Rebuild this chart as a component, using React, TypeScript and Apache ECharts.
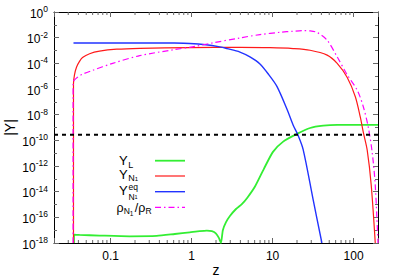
import React, { useEffect, useRef } from 'react';
import * as echarts from 'echarts';

// ---- axis ranges & ticks ----
const X_MIN = 0.02;
const X_MAX = 200;
const Y_MIN_EXP = -18;
const Y_MAX_EXP = 0;
const xTickValues = [0.1, 1, 10, 100];
const xTickLabels = ['0.1', '1', '10', '100'];
const yTickExponents = [0, -2, -4, -6, -8, -10, -12, -14, -16, -18];
const xMinorTicks = [
  0.03, 0.04, 0.05, 0.06, 0.07, 0.08, 0.09,
  0.2, 0.3, 0.4, 0.5, 0.6, 0.7, 0.8, 0.9,
  2, 3, 4, 5, 6, 7, 8, 9,
  20, 30, 40, 50, 60, 70, 80, 90,
];

// ---- series (z, log10 |Y|) ----
const greenZ = [0.0353, 0.0353, 0.0413, 0.073, 0.172, 0.371, 0.62, 0.95, 1.26, 1.54, 1.78, 1.99, 2.17, 2.3, 2.43, 2.65, 2.97, 3.53, 4.2, 4.9, 6.06, 7.83, 10.1, 13.5, 20.0, 29.0, 42.1, 62.7, 200];
const greenLogY = [-18, -17.35, -17.37, -17.42, -17.48, -17.45, -17.3, -17.17, -17.08, -17.04, -17.08, -17.25, -17.6, -18, -17.0, -16.4, -15.9, -15.35, -14.95, -14.45, -13.6, -12.2, -10.9, -10.1, -9.5, -9.04, -8.86, -8.8, -8.8];

const redZ = [0.0348, 0.0348, 0.0358, 0.0379, 0.0413, 0.045, 0.055, 0.073, 0.119, 0.229, 0.95, 3.95, 9.3, 17.9, 29.0, 47.1, 62.7, 83.4, 105, 121, 132, 147, 165, 185];
const redLogY = [-18, -5.6, -4.9, -4.3, -3.85, -3.55, -3.25, -3.05, -2.9, -2.83, -2.77, -2.76, -2.78, -2.85, -2.98, -3.36, -4.0, -5.1, -6.6, -8.2, -9.4, -10.75, -13.5, -18];

const blueZ = [0.0348, 0.1, 0.3, 0.6, 0.95, 1.5, 2.23, 2.73, 3.95, 5.25, 6.98, 9.0, 11.3, 15.1, 17.9, 20.6, 23.8, 31.6, 40.6];
const blueLogY = [-2.41, -2.41, -2.41, -2.42, -2.45, -2.55, -2.72, -2.85, -3.12, -3.5, -4.05, -4.9, -5.8, -7.6, -8.8, -9.6, -10.7, -14.6, -18];

const magentaZ = [0.0344, 0.0344, 0.0379, 0.045, 0.0598, 0.106, 0.229, 0.585, 1.1, 1.78, 3.95, 6.98, 12.4, 17.9, 23.8, 29.0, 35.5, 47.1, 62.7, 83.4, 111, 132, 152, 170, 185, 200];
const magentaLogY = [-18, -5.5, -5.15, -4.85, -4.55, -4.0, -3.4, -2.95, -2.68, -2.42, -2.02, -1.76, -1.58, -1.5, -1.45, -1.47, -1.6, -2.2, -3.5, -4.9, -6.1, -7.4, -9.0, -11.0, -13.5, -18];

const observedZ = [0.02, 200];
const observedLogY = [-9.56, -9.56];

const FONT = 'Liberation Sans, Arial, Helvetica, sans-serif';
const GREEN = '#33ee33';
const RED = '#ff1a1a';
const BLUE = '#2233ff';
const MAGENTA = '#ff00ff';
const TICK = '#666';

const pairs = (xs: number[], ys: number[]) => xs.map((x, i) => [x, ys[i]]);

const txt = (x: number, y: number, text: string, fontSize: number) => ({
  type: 'text',
  x,
  y,
  silent: true,
  style: { text, fontFamily: FONT, fontSize, fill: '#000', verticalAlign: 'middle', align: 'left' },
});

export default function App() {
  const ref = useRef<HTMLDivElement>(null);
  useEffect(() => {
    if (!ref.current) return;
    const chart = echarts.init(ref.current, null, { renderer: 'svg' });

    const xLabel = (v: number) => {
      const i = xTickValues.findIndex((t) => Math.abs(Math.log10(v) - Math.log10(t)) < 1e-6);
      return i >= 0 ? xTickLabels[i] : '';
    };
    const yLabel = (v: number) => {
      const r = Math.round(v);
      if (Math.abs(v - r) > 1e-9 || !yTickExponents.includes(r)) return '';
      return `{b|10}{s|${r}}`;
    };

    const xAxisCommon = {
      type: 'log',
      logBase: 10,
      min: X_MIN,
      max: X_MAX,
      splitLine: { show: false },
      axisLine: { show: true, onZero: false, lineStyle: { color: '#000', width: 1 } },
      axisTick: { show: true, inside: true, length: 5, lineStyle: { color: TICK } },
      minorTick: { show: false },
    };
    const yAxisCommon = {
      type: 'value',
      min: Y_MIN_EXP,
      max: Y_MAX_EXP,
      interval: 2,
      splitLine: { show: false },
      axisLine: { show: true, onZero: false, lineStyle: { color: '#000', width: 1 } },
      axisTick: { show: true, inside: true, length: 5, lineStyle: { color: TICK } },
      minorTick: { show: true, splitNumber: 2, length: 3, lineStyle: { color: TICK } },
    };

    const lineSeries = (name: string, xs: number[], ys: number[], color: string, width: number, type: any, smooth: number) => ({
      name,
      type: 'line',
      data: pairs(xs, ys),
      showSymbol: false,
      symbol: 'none',
      smooth,
      clip: true,
      lineStyle: { color, width, type },
      silent: true,
    });

    const option: any = {
      animation: false,
      backgroundColor: '#fff',
      grid: { left: 54, right: 20, top: 12, bottom: 36, outerBoundsMode: 'none' },
      xAxis: [
        {
          ...xAxisCommon,
          position: 'bottom',
          name: 'z',
          nameLocation: 'middle',
          nameGap: 21,
          nameMoveOverlap: false,
          nameTextStyle: { fontFamily: FONT, fontSize: 14, lineHeight: 12, color: '#000' },
          axisLabel: { show: true, formatter: xLabel, margin: 7, fontFamily: FONT, fontSize: 12, color: '#000' },
        },
        { ...xAxisCommon, position: 'top', axisLabel: { show: false } },
      ],
      yAxis: [
        {
          ...yAxisCommon,
          position: 'left',
          name: '|Y|',
          nameLocation: 'middle',
          nameGap: 37,
          nameMoveOverlap: false,
          nameRotate: 90,
          nameTextStyle: { fontFamily: FONT, fontSize: 14, lineHeight: 14, color: '#000' },
          axisLabel: {
            show: true,
            formatter: yLabel,
            margin: 6,
            rich: {
              b: { fontFamily: FONT, fontSize: 12, color: '#000', padding: [3, 0, 0, 0] },
              s: { fontFamily: FONT, fontSize: 8.5, color: '#000', padding: [0, 0, 6, 0] },
            },
          },
        },
        { ...yAxisCommon, position: 'right', axisLabel: { show: false } },
      ],
      series: [
        {
          name: 'minorTicksX',
          type: 'custom',
          xAxisIndex: 0,
          yAxisIndex: 0,
          silent: true,
          clip: false,
          data: xMinorTicks.map((v) => [v, Y_MIN_EXP]),
          renderItem: (_params: any, api: any) => {
            const v = api.value(0);
            const b = api.coord([v, Y_MIN_EXP]);
            const t = api.coord([v, Y_MAX_EXP]);
            const st = { stroke: TICK, lineWidth: 1 };
            return {
              type: 'group',
              children: [
                { type: 'line', shape: { x1: b[0], y1: b[1], x2: b[0], y2: b[1] - 3 }, style: st },
                { type: 'line', shape: { x1: t[0], y1: t[1], x2: t[0], y2: t[1] + 3 }, style: st },
              ],
            };
          },
        },
        lineSeries('Y_L', greenZ, greenLogY, GREEN, 1.8, 'solid', 0.2),
        lineSeries('Y_N1', redZ, redLogY, RED, 1.2, 'solid', 0.3),
        lineSeries('Y_N1^eq', blueZ, blueLogY, BLUE, 1.4, 'solid', 0.3),
        lineSeries('rho_N1/rho_R', magentaZ, magentaLogY, MAGENTA, 1.2, [6, 3, 1.5, 3], 0.3),
        {
          name: 'observed',
          type: 'line',
          data: pairs(observedZ, observedLogY),
          showSymbol: false,
          symbol: 'none',
          silent: true,
          lineStyle: { color: '#000', width: 2, type: [4, 4] },
        },
      ],
      graphic: [
        // legend: Y_L
        txt(119, 160, 'Y', 13),
        txt(128.3, 164.5, 'L', 9),
        // legend: Y_N1
        txt(119, 174, 'Y', 13),
        txt(128.2, 177.5, 'N', 9),
        txt(134.7, 179.2, '1', 6),
        // legend: Y_N1^eq
        txt(119, 190, 'Y', 13),
        txt(128.5, 187.3, 'eq', 8.5),
        txt(128.5, 196.8, 'N', 8.5),
        txt(134.6, 197.3, '1', 5.5),
        // legend: rho_N1/rho_R
        txt(116.5, 207.5, 'ρ', 12.5),
        txt(123.7, 211, 'N', 8.5),
        txt(129.8, 213, '1', 6.5),
        txt(134.8, 207.5, '/', 12.5),
        txt(138.3, 207.5, 'ρ', 12.5),
        txt(145.5, 211, 'R', 8.5),
        // legend samples
        { type: 'line', silent: true, shape: { x1: 155, y1: 160.7, x2: 185, y2: 160.7 }, style: { stroke: GREEN, lineWidth: 1.8 } },
        { type: 'line', silent: true, shape: { x1: 155, y1: 176, x2: 185, y2: 176 }, style: { stroke: RED, lineWidth: 1.2 } },
        { type: 'line', silent: true, shape: { x1: 155, y1: 191.7, x2: 185, y2: 191.7 }, style: { stroke: BLUE, lineWidth: 1.4 } },
        { type: 'line', silent: true, shape: { x1: 155, y1: 207.3, x2: 185, y2: 207.3 }, style: { stroke: MAGENTA, lineWidth: 1.2, lineDash: [6, 3, 1.5, 3] } },
      ],
    };

    chart.setOption(option);
    return () => chart.dispose();
  }, []);

  return (
    <div
      ref={ref}
      style={{ position: 'absolute', left: 0, top: 0, width: 398, height: 279, background: '#fff' }}
    />
  );
}
